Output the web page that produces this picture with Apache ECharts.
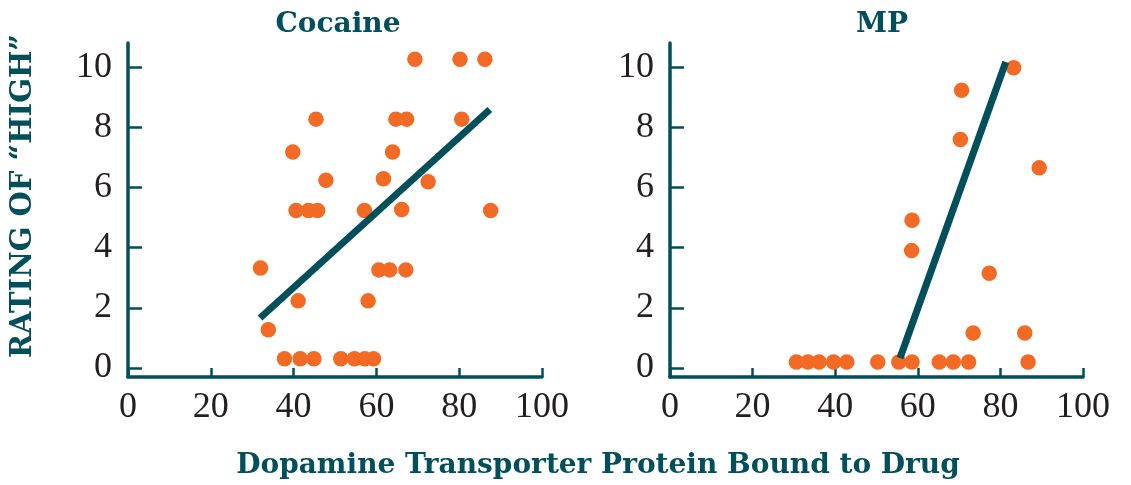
<!DOCTYPE html>
<html><head><meta charset="utf-8">
<script src="https://cdn.jsdelivr.net/npm/echarts@6/dist/echarts.min.js"></script>
<style>html,body{margin:0;padding:0;background:#fff}#c{width:1131px;height:485px}</style>
</head><body><div id="c"></div>
<script>
// Data
const titles = ['Cocaine', 'MP'];
const xTicks = [0, 20, 40, 60, 80, 100];
const yTicks = [0, 2, 4, 6, 8, 10];
const cocaineX = [69.3, 80.2, 86.2, 45.4, 64.7, 67.3, 80.6, 39.8, 63.9, 47.8, 61.7, 72.5, 40.6, 43.6, 45.8, 57.1, 66.1, 87.6, 32.0, 60.6, 63.2, 67.1, 41.1, 58.0, 33.9, 37.8, 41.6, 44.9, 51.4, 54.7, 57.2, 59.3];
const cocaineY = [10.26, 10.26, 10.26, 8.27, 8.27, 8.27, 8.27, 7.18, 7.18, 6.24, 6.29, 6.19, 5.23, 5.23, 5.23, 5.23, 5.27, 5.23, 3.32, 3.26, 3.26, 3.26, 2.23, 2.23, 1.27, 0.31, 0.31, 0.31, 0.31, 0.31, 0.31, 0.31];
const cocaineFitX = [31.9, 87.4];
const cocaineFitY = [1.66, 8.59];
const mpX = [83.2, 70.6, 70.3, 89.4, 58.6, 58.5, 77.3, 73.4, 85.9, 30.6, 33.4, 36.1, 39.6, 42.8, 50.3, 55.4, 58.6, 65.2, 68.6, 72.3, 86.7];
const mpY = [9.98, 9.23, 7.59, 6.65, 4.91, 3.90, 3.15, 1.16, 1.16, 0.2, 0.2, 0.2, 0.2, 0.2, 0.2, 0.2, 0.2, 0.2, 0.2, 0.2, 0.2];
const mpFitX = [55.7, 81.3];
const mpFitY = [0.33, 10.17];
const yAxisTitle = 'RATING OF “HIGH”';
const xAxisTitle = 'Dopamine Transporter Protein Bound to Drug';

const TEAL = '#004f5b', ORANGE = '#f26a24', INK = '#231f20';
const zip = (a, b) => a.map((v, i) => [v, b[i]]);
const grids = [
  {left: 128, top: 43, width: 414, height: 334},
  {left: 670, top: 43, width: 413, height: 334}
];
function xAx(i) {
  return {gridIndex: i, type: 'value', min: 0, max: 100, interval: 20,
    axisLine: {show: true, onZero: false, lineStyle: {color: TEAL, width: 3.5}},
    axisTick: {show: true, inside: true, length: 9, lineStyle: {color: TEAL, width: 2.5}, customValues: xTicks},
    axisLabel: {color: INK, fontFamily: 'Liberation Serif', fontSize: 36, margin: 13, customValues: xTicks},
    splitLine: {show: false}};
}
function yAx(i) {
  return {gridIndex: i, type: 'value', min: -0.3, max: 10.8,
    axisLine: {show: true, onZero: false, lineStyle: {color: TEAL, width: 3.5}},
    axisTick: {show: true, inside: true, length: 14, lineStyle: {color: TEAL, width: 2.5}, customValues: yTicks},
    axisLabel: {color: INK, fontFamily: 'Liberation Serif', fontSize: 36, margin: 16, customValues: yTicks},
    splitLine: {show: false}};
}
const chart = echarts.init(document.getElementById('c'), null, {renderer: 'canvas'});
chart.setOption({
  animation: false,
  backgroundColor: '#fff',
  title: [
    {text: titles[0], left: 333, top: 6, textAlign: 'center', textStyle: {color: TEAL, fontFamily: 'DejaVu Serif', fontWeight: 'bold', fontSize: 28}},
    {text: titles[1], left: 877, top: 6, textAlign: 'center', textStyle: {color: TEAL, fontFamily: 'DejaVu Serif', fontWeight: 'bold', fontSize: 28}}
  ],
  graphic: [
    {type: 'text', x: 23, y: 196, rotation: Math.PI / 2, style: {text: yAxisTitle, fill: TEAL, font: 'bold 29px "DejaVu Serif"', align: 'center', verticalAlign: 'middle'}},
    {type: 'text', x: 598, y: 466, style: {text: xAxisTitle, fill: TEAL, font: 'bold 28px "DejaVu Serif"', align: 'center', verticalAlign: 'middle'}}
  ],
  grid: grids,
  xAxis: [xAx(0), xAx(1)],
  yAxis: [yAx(0), yAx(1)],
  series: [
    {type: 'scatter', xAxisIndex: 0, yAxisIndex: 0, data: zip(cocaineX, cocaineY), symbolSize: 15.5, itemStyle: {color: ORANGE, opacity: 1}, z: 2},
    {type: 'line', xAxisIndex: 0, yAxisIndex: 0, data: zip(cocaineFitX, cocaineFitY), showSymbol: false, symbol: 'none', lineStyle: {color: TEAL, width: 7, cap: 'butt'}, z: 3},
    {type: 'scatter', xAxisIndex: 1, yAxisIndex: 1, data: zip(mpX, mpY), symbolSize: 15.5, itemStyle: {color: ORANGE, opacity: 1}, z: 2},
    {type: 'line', xAxisIndex: 1, yAxisIndex: 1, data: zip(mpFitX, mpFitY), showSymbol: false, symbol: 'none', lineStyle: {color: TEAL, width: 7, cap: 'butt'}, z: 3}
  ]
});
</script></body></html>
